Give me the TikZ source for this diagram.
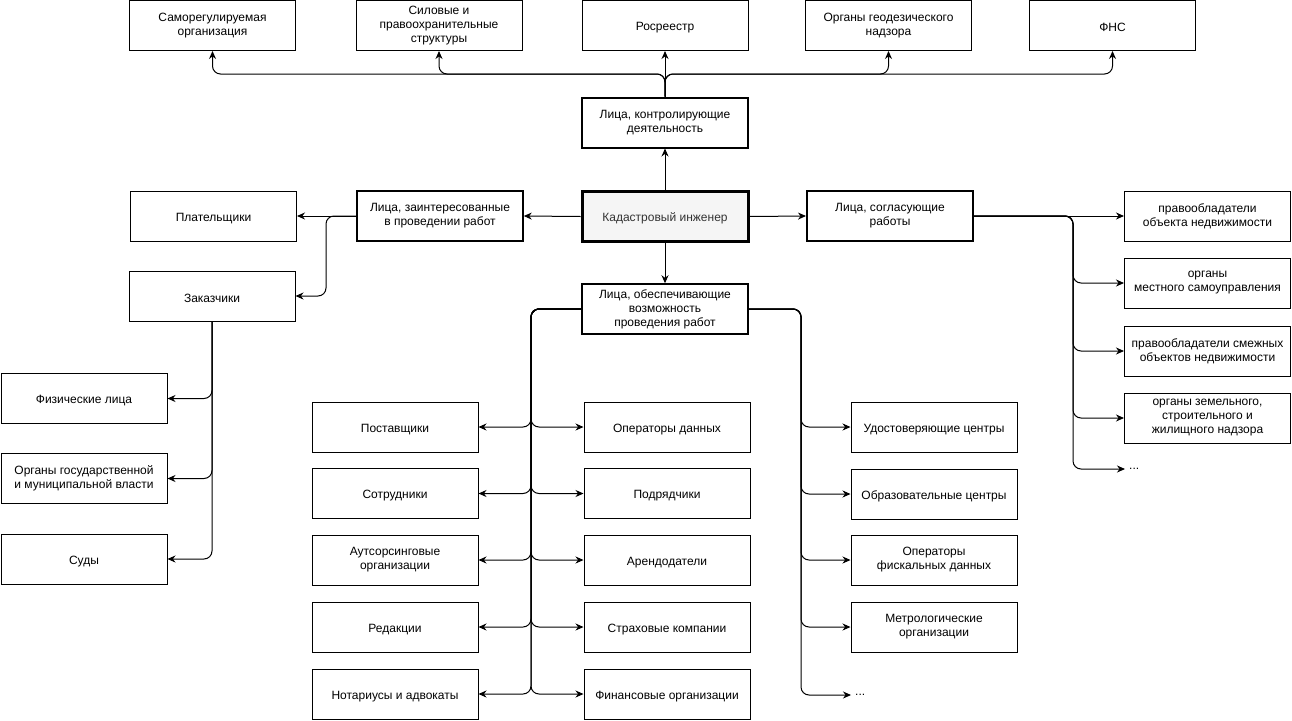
\documentclass[tikz,border=0pt]{standalone}
\usepackage{fontspec}
\setmainfont{Liberation Sans}
\usetikzlibrary{arrows.meta}
\definecolor{kadfill}{HTML}{F5F5F5}
\definecolor{kadtext}{HTML}{333333}
\begin{document}
\begin{tikzpicture}[x=1pt,y=-1pt,
  box/.style={draw=black, line width=1pt, minimum width=166pt, minimum height=50pt,
    inner sep=2pt, align=center, font=\fontsize{12}{14}\selectfont,
    execute at begin node={\rule{0pt}{13pt}}},
  boxthick/.style={box, line width=2pt},
  boxmid/.style={box, line width=1.5pt},
  kadbox/.style={box, line width=3pt, fill=kadfill, text=kadtext},
  arr/.style={-{Stealth[length=8pt,width=7pt]}, line width=1pt, rounded corners=8pt},
  dotsnode/.style={anchor=west, inner sep=4pt, font=\fontsize{12}{14}\selectfont}]
\useasboundingbox[fill=white] (0,0) rectangle (1292,720);

% top row
\node[box] (sro) at (212.5,25.5) {Саморегулируемая\\организация};
\node[box] (sil) at (439,25.5) {Силовые и\\правоохранительные\\структуры};
\node[box] (ros) at (665,25.5) {Росреестр};
\node[box] (geo) at (888.5,25.5) {Органы геодезического\\надзора};
\node[box] (fns) at (1112.5,25.5) {ФНС};

\node[boxthick] (ctrl) at (665,122.5) {Лица, контролирующие\\деятельность};
\node[kadbox] (kad) at (665,216.5) {Кадастровый инженер};
\node[boxmid] (zain) at (440,216) {Лица, заинтересованные\\в проведении работ};
\node[boxthick] (sogl) at (890,216) {Лица, согласующие\\работы};
\node[boxmid] (obesp) at (665,309) {Лица, обеспечивающие\\возможность\\проведения работ};

\node[box] (plat) at (213.5,216) {Плательщики};
\node[box] (zak) at (212,296) {Заказчики};
\node[box] (fiz) at (84,398.5) {Физические лица};
\node[box] (org) at (84,478.5) {Органы государственной\\и муниципальной власти};
\node[box] (sud) at (84,559) {Суды};

\node[box] (post) at (395,427) {Поставщики};
\node[box] (sotr) at (395,493.5) {Сотрудники};
\node[box] (auts) at (395,560) {Аутсорсинговые\\организации};
\node[box] (red) at (395,627) {Редакции};
\node[box] (nota) at (395,694) {Нотариусы и адвокаты};

\node[box] (oper) at (667,427) {Операторы данных};
\node[box] (podr) at (667,493.5) {Подрядчики};
\node[box] (arend) at (667,560) {Арендодатели};
\node[box] (strah) at (667,627) {Страховые компании};
\node[box] (fin) at (667,694) {Финансовые организации};

\node[box] (udost) at (934,427) {Удостоверяющие центры};
\node[box] (obraz) at (934,494) {Образовательные центры};
\node[box] (fisk) at (934,560) {Операторы\\фискальных данных};
\node[box] (metr) at (934,627) {Метрологические\\организации};
\node[dotsnode] (dotsA) at (851,695) {...};

\node[box] (prav) at (1207.5,216) {правообладатели\\объекта недвижимости};
\node[box] (mest) at (1207.5,283) {органы\\местного самоуправления};
\node[box] (smezh) at (1207.5,351) {правообладатели смежных\\объектов недвижимости};
\node[box] (zem) at (1207.5,418) {органы земельного,\\строительного и\\жилищного надзора};
\node[dotsnode] (dotsB) at (1125,469) {...};

% helper coordinates
\coordinate (bus) at (0,74);
\coordinate (zx) at (326,0);
\coordinate (lx) at (531,0);
\coordinate (rx) at (801,0);
\coordinate (sx) at (1073,0);

% top connectors
\draw[arr] (ctrl.north) -- (ros.south);
\foreach \t in {sro,sil,geo,fns}
  \draw[arr] (ctrl.north) -- (ctrl.north |- bus) -| (\t.south);

% from cadastral engineer
\draw[arr] (kad.north) -- (ctrl.south);
\draw[arr] (kad.west) -- (zain.east);
\draw[arr] (kad.east) -- (sogl.west);
\draw[arr] (kad.south) -- (obesp.north);

% interested persons
\draw[arr] (zain.west) -- (plat.east);
\draw[arr] (zain.west) -| (zx |- zak.east) -- (zak.east);
\foreach \t in {fiz,org,sud}
  \draw[arr] (zak.south) |- (\t.east);

% providing persons
\foreach \t in {post,sotr,auts,red,nota}
  \draw[arr] (obesp.west) -| (lx |- \t.east) -- (\t.east);
\foreach \t in {oper,podr,arend,strah,fin}
  \draw[arr] (obesp.west) -| (lx |- \t.west) -- (\t.west);
\foreach \t in {udost,obraz,fisk,metr,dotsA}
  \draw[arr] (obesp.east) -| (rx |- \t.west) -- (\t.west);

% approving persons
\draw[arr] (sogl.east) -- (prav.west);
\foreach \t in {mest,smezh,zem,dotsB}
  \draw[arr] (sogl.east) -| (sx |- \t.west) -- (\t.west);
\end{tikzpicture}
\end{document}
